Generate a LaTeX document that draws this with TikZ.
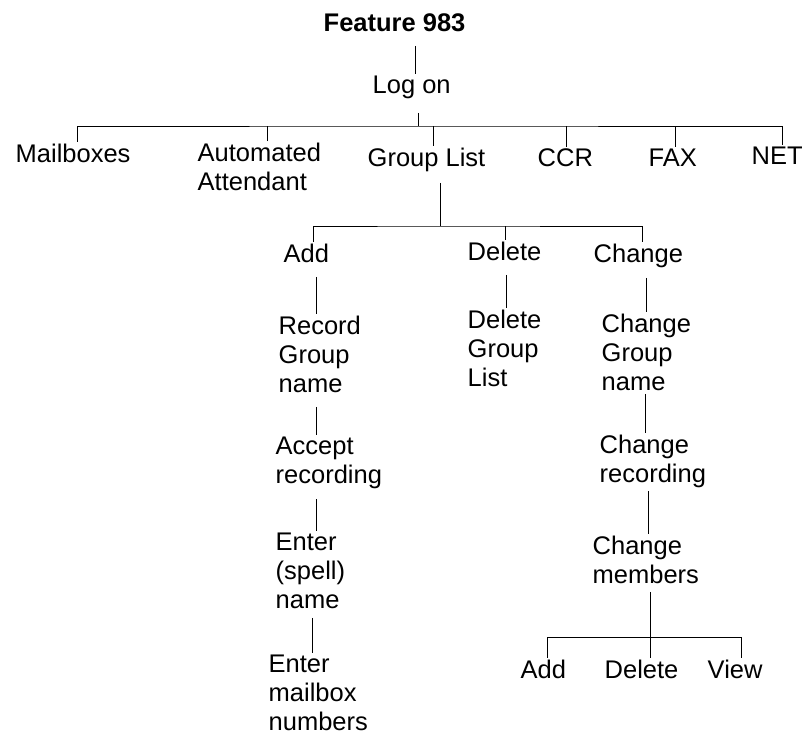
\documentclass[tikz,border=0pt]{standalone}
\usepackage{fontspec}
\setmainfont{Liberation Sans}
\usepackage{tikz}

\begin{document}
\begin{tikzpicture}[x=1pt,y=-1pt,
		item/.style={anchor=base west,inner sep=1.5pt,align=left,font=\fontsize{25.5}{28.7}\selectfont},
		link/.style={line width=0.9pt}]
			\useasboundingbox (0,0) rectangle (804,732);
			% top of the tree (multi-line items sit on their last line)
			\node[item,font=\bfseries\fontsize{25.5}{28.7}\selectfont] (feat) at (322,31) {Feature 983};
			\node[item] (logon) at (371,93) {Log on};
			\node[item] (mail) at (14,162) {Mailboxes};
			\node[item] (auto) at (196,190) {Automated\\Attendant};
			\node[item] (group) at (366,166) {Group List};
			\node[item] (ccr) at (536,166) {CCR};
			\node[item] (fax) at (647,166) {FAX};
			\node[item] (net) at (750,164) {NET};
			% group list menu
			\node[item] (add) at (282,262) {Add};
			\node[item] (del) at (466,260) {Delete};
			\node[item] (chg) at (592,262) {Change};
			\node[item] (rec) at (277,392) {Record\\Group\\name};
			\node[item] (delgl) at (466,386) {Delete\\Group\\List};
			\node[item] (chgname) at (600,390) {Change\\Group\\name};
			\node[item] (acc) at (274,483) {Accept\\recording};
			\node[item] (chgrec) at (598,482) {Change\\recording};
			\node[item] (enter) at (274,608) {Enter\\(spell)\\name};
			\node[item] (chgmem) at (591,583) {Change\\members};
			\node[item] (entmb) at (267,730) {Enter\\mailbox\\numbers};
			\node[item] (sadd) at (519,678) {Add};
			\node[item] (sdel) at (603,678) {Delete};
			\node[item] (sview) at (706,678) {View};
			\coordinate (bus1) at (418,126);
			\coordinate (bus2) at (440,226);
			\coordinate (bus3) at (650,637);
			% connectors
			\draw[link,shorten <=13pt] ([xshift=4pt]logon.north |- feat.south) -- ([xshift=4pt]logon.north);
			\draw[link,shorten <=13pt] (bus1 |- logon.south) -- (bus1);
			\draw[link] ([xshift=4.5pt]mail.north) |- (bus1) -| ([xshift=5.5pt]net.north);
			\draw[link] ([xshift=8pt]auto.north) -- ([xshift=8pt]auto.north |- bus1);
			\draw[link] ([xshift=7pt]group.north) -- ([xshift=7pt]group.north |- bus1);
			\draw[link] ([xshift=1pt]ccr.north) -- ([xshift=1pt]ccr.north |- bus1);
			\draw[link] ([xshift=3pt]fax.north) -- ([xshift=3pt]fax.north |- bus1);
			\draw[link,shorten <=10pt] (bus2 |- group.south) -- (bus2);
			\draw[link] ([xshift=7.5pt]add.north) |- (bus2) -| ([xshift=4.5pt]chg.north);
			\draw[link] ([xshift=0.5pt]del.north) -- ([xshift=0.5pt]del.north |- bus2);
			\draw[link,shorten <=13pt] ([xshift=-3pt]rec.north |- add.south) -- ([xshift=-3pt]rec.north);
			\draw[link,shorten <=13pt] ([xshift=2pt]delgl.north |- del.south) -- ([xshift=2pt]delgl.north);
			\draw[link,shorten <=9pt] (chgname.north |- chg.south) -- (chgname.north);
			\draw[link,shorten <=13pt] ([xshift=-12pt]acc.north |- rec.south) -- ([xshift=-12pt]acc.north);
			\draw[link,shorten <=9pt] ([xshift=6pt]enter.north |- acc.south) -- ([xshift=6pt]enter.north);
			\draw[link,shorten <=8pt] ([xshift=-6pt]entmb.north |- enter.south) -- ([xshift=-6pt]entmb.north);
			\draw[link,shorten <=2pt] ([xshift=-7pt]chgrec.north |- chgname.south) -- ([xshift=-7pt]chgrec.north);
			\draw[link,shorten <=2pt] ([xshift=3pt]chgmem.north |- chgrec.south) -- ([xshift=3pt]chgmem.north);
			\draw[link,shorten <=7pt] (bus3 |- chgmem.south) -- (bus3);
			\draw[link] ([xshift=4.5pt]sadd.north) |- (bus3) -| ([xshift=6.5pt]sview.north);
			\draw[link] ([xshift=8.5pt]sdel.north) -- ([xshift=8.5pt]sdel.north |- bus3);
		\end{tikzpicture}
\end{document}
